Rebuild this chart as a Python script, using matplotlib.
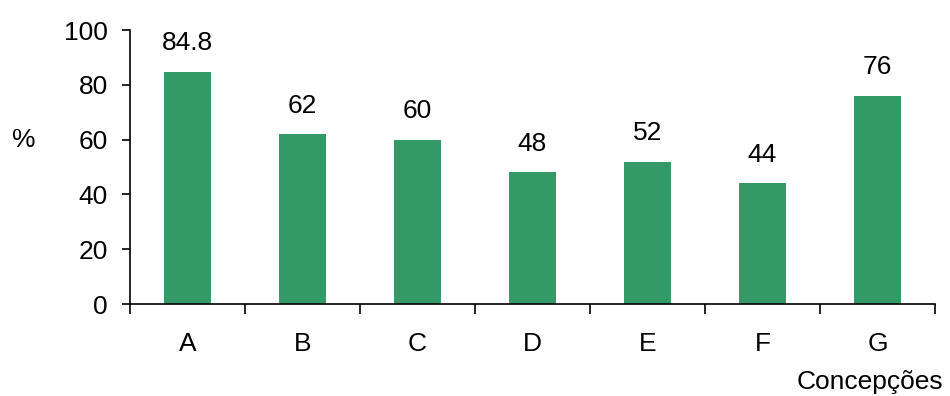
import numpy as np
import matplotlib.pyplot as plt

plt.rcParams['font.family'] = ['Liberation Sans', 'DejaVu Sans']

categories = ['A', 'B', 'C', 'D', 'E', 'F', 'G']
values = [84.8, 62, 60, 48, 52, 44, 76]
labels = ['84.8', '62', '60', '48', '52', '44', '76']

fs = 19

fig = plt.figure(figsize=(9.5, 3.96), dpi=100)
ax = fig.add_axes([130/950, 1-304/396, 805/950, 274/396])

x = np.arange(len(categories))
ax.bar(x, values, width=0.41, color='#339966')
for xi, v, lab in zip(x, values, labels):
    ax.text(xi, v + 6, lab, ha='center', va='bottom', fontsize=fs)

ax.set_xlim(-0.5, len(categories) - 0.5)
ax.set_ylim(0, 100)
ax.set_yticks(range(0, 101, 20))
ax.tick_params(axis='y', labelsize=fs, length=6, width=1.2, pad=10)

# ticks at category boundaries, labels at centres
ax.set_xticks(np.arange(-0.5, len(categories)), [''] * (len(categories) + 1))
ax.set_xticks(x, categories, minor=True)
ax.tick_params(axis='x', which='major', length=7, width=1.2, direction='out')
ax.tick_params(axis='x', which='minor', length=0, labelsize=fs, pad=20)

for s in ['top', 'right']:
    ax.spines[s].set_visible(False)
ax.spines['left'].set_linewidth(1.2)
ax.spines['bottom'].set_linewidth(1.2)

fig.text(12/950, 1-140/396, '%', fontsize=fs, ha='left', va='center')
fig.text(943/950, 1-382/396, 'Concepções', fontsize=fs, ha='right', va='center')

fig.savefig('out.png', dpi=100)
